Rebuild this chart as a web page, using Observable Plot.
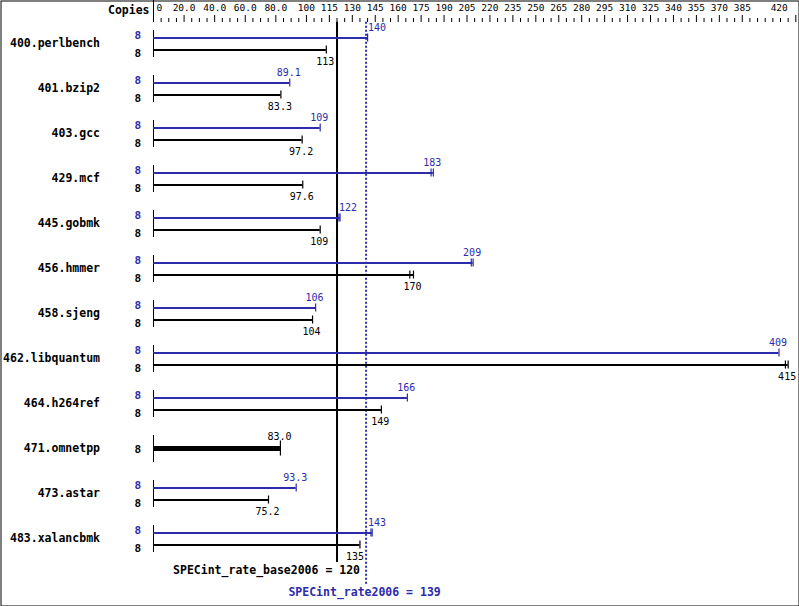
<!DOCTYPE html>
<html>
<head>
<meta charset="utf-8">
<script src="https://cdn.jsdelivr.net/npm/d3@7"></script>
<script src="https://cdn.jsdelivr.net/npm/@observablehq/plot@0.6"></script>
<style>
  html, body { margin: 0; padding: 0; background: #fff; }
  #chart svg { display: block; }
</style>
</head>
<body>
<div id="chart"></div>
<script>
// ---------- data ----------
const benchmarks = ["400.perlbench","401.bzip2","403.gcc","429.mcf","445.gobmk","456.hmmer",
  "458.sjeng","462.libquantum","464.h264ref","471.omnetpp","473.astar","483.xalancbmk"];
const peakValues = [140, 89.1, 109, 183, 122, 209, 106, 409, 166, null, 93.3, 143];
const baseValues = [113, 83.3, 97.2, 97.6, 109, 170, 104, 415, 149, 83.0, 75.2, 135];
const peakCopies = [8, 8, 8, 8, 8, 8, 8, 8, 8, null, 8, 8];
const baseCopies = [8, 8, 8, 8, 8, 8, 8, 8, 8, 8, 8, 8];
// lowest individual run (second end cap), where visible
const peakRunLow = [null, null, null, 181.5, 121.2, 207.8, null, null, null, null, null, 142.2];
const baseRunLow = [null, null, null, null, null, 167.6, null, 413.2, null, null, null, null];
const tickValues = [0, 20, 40, 60, 80, 100, 115, 130, 145, 160, 175, 190, 205, 220, 235, 250,
  265, 280, 295, 310, 325, 340, 355, 370, 385, 420];
const tickLabels = ["0", "20.0", "40.0", "60.0", "80.0", "100", "115", "130", "145", "160", "175",
  "190", "205", "220", "235", "250", "265", "280", "295", "310", "325", "340", "355", "370", "385", "420"];
const axisTitle = "Copies";
const baseRate = 120, peakRate = 139;
const baseRateLabel = "SPECint_rate_base2006 = 120";
const peakRateLabel = "SPECint_rate2006 = 139";

// ---------- layout ----------
const W = 799, H = 606;
const X_RANGE = [153, 795.3];
const X_MAX = 420;
const K = (X_RANGE[1] - X_RANGE[0]) / X_MAX; // px per unit
const ROW = 45;              // px per benchmark row
const Y0 = 37.5;             // px of first peak bar
const p = px => (px - Y0) / ROW; // pixel row offset -> row units
const BLUE = "#2b2bab";
const MONO = "DejaVu Sans Mono";
const fmt = d3.format(".3r");

// bars
const bars = [];
benchmarks.forEach((b, i) => {
  const single = peakValues[i] == null;
  if (!single) bars.push({i, v: peakValues[i], lo: peakRunLow[i], y: i, color: BLUE, kind: "peak", copies: peakCopies[i]});
  bars.push({i, v: baseValues[i], lo: baseRunLow[i], y: single ? i + 5.5 / ROW : i + 12 / ROW,
    color: "#000", kind: single ? "single" : "base", copies: baseCopies[i]});
});

// label placement avoiding the reference lines
function place(v, text) {
  const hw = text.length * 6.02 / 2 / K, gap = 1 / K;
  for (const L of [baseRate, peakRate]) {
    if (v - hw - gap < L && v + hw + gap > L) {
      return v >= L ? {anchor: "start", dx: (L - v) * K + 2} : {anchor: "end", dx: (L - v) * K - 2};
    }
  }
  return {anchor: "middle", dx: -1};
}
const valueLabels = bars.map(d => {
  const t = fmt(d.v);
  const pl = place(d.v, t);
  const dy = d.kind === "peak" ? -10.5 : d.kind === "base" ? 11.8 : -11.5;
  return {...d, t, anchor: pl.anchor, lx: d.v + pl.dx / K, ly: d.y + dy / ROW};
});
const copyLabels = bars.map(d => ({...d, ly: d.y + (d.kind === "peak" ? -2.2 : d.kind === "base" ? 3.8 : 0.5) / ROW}));

const caps = [];
bars.forEach(d => {
  const h = d.kind === "single" ? 7.5 : 4;
  caps.push({x: d.v, y1: d.y - h / ROW, y2: d.y + h / ROW, color: d.color});
  if (d.lo != null) caps.push({x: d.lo, y1: d.y - h / ROW, y2: d.y + h / ROW, color: d.color});
});

const minorTicks = d3.range(0, X_MAX + 1, 5).filter(v => !tickValues.includes(v));
const ticks = tickValues.map((v, k) => ({v, label: tickLabels[k], k}));

const chart = Plot.plot({
  width: W, height: H,
  marginTop: 0, marginRight: 0, marginBottom: 0, marginLeft: 0,
  style: {fontFamily: MONO, background: "#fff", color: "#000"},
  x: {domain: [0, X_MAX], range: X_RANGE, axis: null},
  y: {type: "linear", domain: [0, 1], range: [Y0, Y0 + ROW], axis: null},
  marks: [
    Plot.frame({stroke: "#000", inset: 0.5}),
    // header
    Plot.ruleX([0], {y1: p(0), y2: p(22), stroke: "#000", strokeWidth: 1}),
    Plot.ruleX(tickValues, {y1: p(15), y2: p(22), stroke: "#000", strokeWidth: 1}),
    Plot.ruleX(minorTicks, {y1: p(18), y2: p(22), stroke: "#000", strokeWidth: 1}),
    Plot.text([axisTitle], {x: 0, y: p(10), text: d => d, textAnchor: "end", dx: -4,
      fontWeight: "bold", fontSize: 11.5, fill: "#000"}),
    Plot.text(ticks.filter(d => d.k === 0), {x: "v", y: p(7.5), text: "label", textAnchor: "start", dx: 3, fontSize: 9.5, fill: "#000"}),
    Plot.text(ticks.filter(d => d.k > 0 && d.k < ticks.length - 1), {x: "v", y: p(7.5), text: "label", textAnchor: "middle", dx: 0, fontSize: 9.5, fill: "#000"}),
    Plot.text(ticks.filter(d => d.k === ticks.length - 1), {x: "v", y: p(7.5), text: "label", textAnchor: "end", dx: -8, fontSize: 9.5, fill: "#000"}),
    // reference lines
    Plot.ruleX([baseRate], {y1: p(21.7), y2: p(562), stroke: "#000", strokeWidth: 2}),
    Plot.ruleX([peakRate], {y1: p(21.7), y2: p(584), stroke: BLUE, strokeWidth: 2, strokeDasharray: "2,2"}),
    Plot.text([baseRateLabel], {x: baseRate, y: p(570), text: d => d, textAnchor: "end", dx: 23,
      fontWeight: "bold", fontSize: 11.5, fill: "#000"}),
    Plot.text([peakRateLabel], {x: peakRate, y: p(592.3), text: d => d, textAnchor: "middle", dx: -1.5,
      fontWeight: "bold", fontSize: 11.5, fill: BLUE}),
    // group brackets at zero
    Plot.ruleX(benchmarks.map((b, i) => i), {x: () => 0, y1: i => i - 7.5 / ROW, y2: i => i + 19.5 / ROW, stroke: "#000", strokeWidth: 1}),
    // benchmark names
    Plot.text(benchmarks, {x: () => 0, y: (b, i) => i + 5.8 / ROW, dx: -53.5, text: d => d, textAnchor: "end",
      fontWeight: "bold", fontSize: 11.5, fill: "#000"}),
    // copies
    Plot.text(copyLabels, {x: () => 0, y: "ly", text: d => String(d.copies), textAnchor: "end", dx: -12.5,
      fontWeight: "bold", fontSize: 11, fill: "color"}),
    // bars
    Plot.ruleY(bars.filter(d => d.kind !== "single"), {y: "y", x1: () => 0, x2: "v", stroke: "color", strokeWidth: 2}),
    Plot.ruleY(bars.filter(d => d.kind === "single"), {y: "y", x1: () => 0, x2: "v", stroke: "color", strokeWidth: 5}),
    Plot.ruleX(caps, {x: "x", y1: "y1", y2: "y2", stroke: "color", strokeWidth: 1.2}),
    // value labels
    ...["start", "middle", "end"].map(a => Plot.text(valueLabels.filter(d => d.anchor === a),
      {x: "lx", y: "ly", text: "t", textAnchor: a, fontSize: 10, fill: "color"}))
  ]
});
document.getElementById("chart").appendChild(chart);
</script>
</body>
</html>
